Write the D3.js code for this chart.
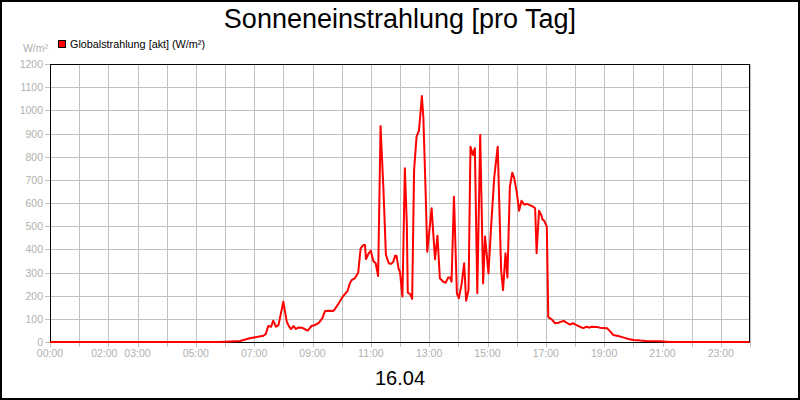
<!DOCTYPE html>
<html>
<head>
<meta charset="utf-8">
<script src="https://cdn.jsdelivr.net/npm/d3@7"></script>
<style>
    body { margin: 0; background: #fff; }
    text { font-family: "Liberation Sans", Arial, sans-serif; }
</style>
</head>
<body>
<script>
// Measurement times (HH:MM) and global radiation values (W/m²)
var times = ["00:00","05:50","06:31","06:51","07:19","07:24","07:29","07:35","07:39","07:45","07:50",
    "08:00","08:07","08:12","08:16","08:21","08:26","08:31","08:38","08:45","08:50","08:58",
    "09:05","09:13","09:20","09:26","09:35","09:43","09:46","09:53","10:00","10:05","10:12","10:17","10:21",
    "10:27","10:34","10:39","10:45","10:48","10:50","10:55","11:00","11:05","11:10","11:15","11:20","11:26",
    "11:31","11:37","11:41","11:46","11:50","11:53","11:57","12:00","12:05","12:10","12:14","12:16","12:21",
    "12:25","12:29","12:34","12:39","12:45","12:48","12:53","12:56","13:05","13:12","13:17","13:22","13:29",
    "13:34","13:39","13:43","13:46","13:51","13:57","14:01","14:07","14:12","14:16","14:21","14:25","14:30",
    "14:34","14:39","14:45","14:51","14:55","15:02","15:07","15:14","15:21","15:28","15:32","15:37","15:41",
    "15:46","15:51","15:55","16:00","16:05","16:10","16:15","16:21","16:27","16:34","16:38","16:41","16:46",
    "16:50","16:53","16:57","17:02","17:05","17:12","17:19","17:26","17:33","17:37","17:43","17:50","17:56",
    "18:03","18:10","18:17","18:24","18:29","18:34","18:45","18:55","19:06","19:12","19:19","19:29","19:39",
    "19:50","20:00","20:14","20:27","20:55","21:15","23:59"];
var radiation = [0,0,4,16,27,35,69,66,92,66,73,
    174,88,66,56,69,56,63,62,55,49,69,
    73,83,102,134,135,134,142,164,188,203,220,255,268,
    275,299,404,419,419,358,380,394,350,340,285,932,656,
    376,340,337,345,373,371,318,303,196,750,512,213,207,
    186,742,886,912,1062,972,627,390,577,357,459,275,260,
    256,278,278,260,627,210,189,253,340,178,224,843,807,
    836,210,894,253,455,296,483,714,843,311,224,383,278,
    670,731,706,649,567,610,594,596,591,584,577,383,567,
    551,530,522,498,107,98,81,83,89,91,83,75,81,
    73,66,60,66,62,66,65,60,59,47,30,26,20,
    13,9,6,4,3,0,0];

// Axis labels
var xTickLabels = ["00:00","02:00","03:00","05:00","07:00","09:00","11:00","13:00","15:00","17:00","19:00","21:00","23:00"];
var yTicks = [0,100,200,300,400,500,600,700,800,900,1000,1100,1200];

var title = "Sonneneinstrahlung [pro Tag]";
var dateLabel = "16.04";
var seriesName = "Globalstrahlung [akt] (W/m²)";

// Convert "HH:MM" to minutes
function toMin(s) {
    var p = s.split(":");
    return +p[0] * 60 + +p[1];
}

var data = times.map(function(t, i) {
    return { t: toMin(t), v: radiation[i] };
});

var w = 800, h = 400;
var plotLeft = 50, plotRight = 750, plotTop = 64, plotBottom = 342;
var grid = "#c0c0c0", labelColor = "#b0b0b0";

var svg = d3.select("body").append("svg")
    .attr("width", w)
    .attr("height", h);

svg.append("rect")
    .attr("x", 1).attr("y", 1)
    .attr("width", w - 2).attr("height", h - 2)
    .style("fill", "#fff")
    .style("stroke", "#000")
    .style("stroke-width", 2);

var x = d3.scaleLinear().domain([0, 1440]).range([plotLeft, plotRight]);
var y = d3.scaleLinear().domain([0, 1200]).range([plotBottom, plotTop]);

// Horizontal grid
svg.selectAll(".hgrid")
    .data(yTicks)
    .enter().append("line")
    .attr("class", "hgrid")
    .attr("x1", plotLeft - 5).attr("x2", plotRight)
    .attr("y1", function(d){ return Math.round(y(d)) + 0.5; })
    .attr("y2", function(d){ return Math.round(y(d)) + 0.5; })
    .style("stroke", grid);

// Vertical grid, one per hour
var hours = d3.range(0, 25);
svg.selectAll(".vgrid")
    .data(hours)
    .enter().append("line")
    .attr("class", "vgrid")
    .attr("x1", function(d){ return Math.round(x(d * 60)) + 0.5; })
    .attr("x2", function(d){ return Math.round(x(d * 60)) + 0.5; })
    .attr("y1", plotTop).attr("y2", plotBottom + 5)
    .style("stroke", grid);

// Y labels
svg.selectAll(".ylab")
    .data(yTicks)
    .enter().append("text")
    .attr("class", "ylab")
    .attr("x", plotLeft - 7)
    .attr("y", function(d){ return y(d) + 4; })
    .attr("text-anchor", "end")
    .style("font-size", "10.5px")
    .style("fill", labelColor)
    .text(function(d){ return d; });

svg.append("text")
    .attr("x", 48).attr("y", 52)
    .attr("text-anchor", "end")
    .style("font-size", "10.5px")
    .style("fill", labelColor)
    .text("W/m²");

// X labels
svg.selectAll(".xlab")
    .data(xTickLabels)
    .enter().append("text")
    .attr("class", "xlab")
    .attr("x", function(d){ return x(toMin(d)) - (d === "02:00" ? 4 : 0); })
    .attr("y", 357)
    .attr("text-anchor", "middle")
    .style("font-size", "10.5px")
    .style("fill", labelColor)
    .text(function(d){ return d; });

// Plot frame
svg.append("rect")
    .attr("x", plotLeft + 0.5).attr("y", plotTop + 0.5)
    .attr("width", plotRight - plotLeft - 1).attr("height", plotBottom - plotTop)
    .style("fill", "none")
    .style("stroke", "#000");

// Radiation line
var line = d3.line()
    .x(function(d){ return x(d.t); })
    .y(function(d){ return y(d.v); });

svg.append("path")
    .datum(data)
    .attr("d", line)
    .style("fill", "none")
    .style("stroke", "#ff0000")
    .style("stroke-width", 2)
    .style("stroke-linejoin", "round");

// Title and date
svg.append("text")
    .attr("x", 400).attr("y", 28)
    .attr("text-anchor", "middle")
    .style("font-size", "27px")
    .text(title);

svg.append("text")
    .attr("x", 400).attr("y", 385)
    .attr("text-anchor", "middle")
    .style("font-size", "20px")
    .text(dateLabel);

// Legend
svg.append("rect")
    .attr("x", 58.5).attr("y", 40.5)
    .attr("width", 7).attr("height", 7)
    .style("fill", "#ff0000")
    .style("stroke", "#000");

svg.append("text")
    .attr("x", 70).attr("y", 48)
    .style("font-size", "10.8px")
    .text(seriesName);
</script>
</body>
</html>
